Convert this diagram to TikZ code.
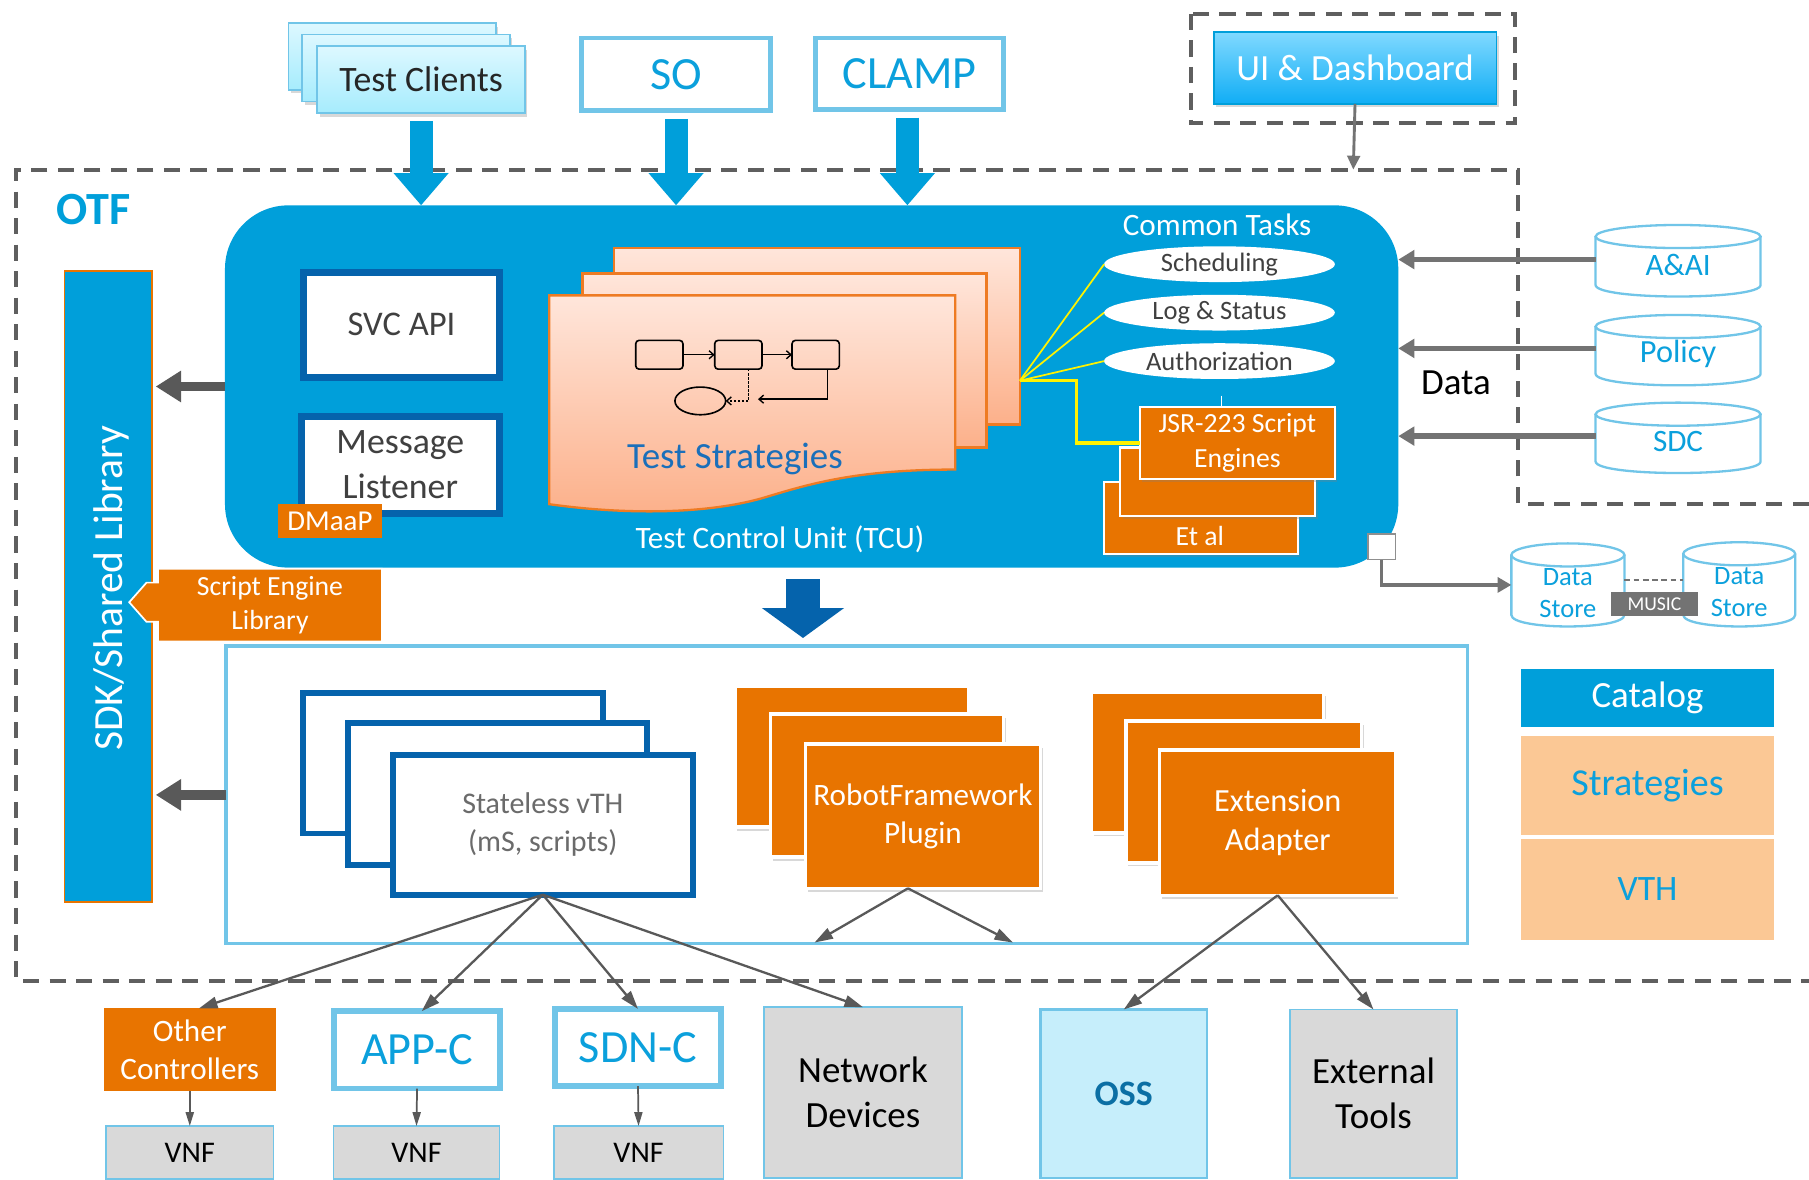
\documentclass[tikz,border=0pt]{standalone}
\usepackage{fontspec}
\setmainfont{Carlito}
\usetikzlibrary{arrows.meta,shapes.geometric,shadows,calc}
\definecolor{otfblue}{HTML}{009FDA}
\definecolor{dblue}{HTML}{0563AC}
\definecolor{lblue}{HTML}{71C5E8}
\definecolor{orng}{HTML}{E87400}
\definecolor{dgray}{HTML}{595959}
\definecolor{mgray}{HTML}{737373}
\definecolor{dashgray}{HTML}{5F5F5F}
\definecolor{txtgray}{HTML}{404040}
\definecolor{peach}{HTML}{FBC895}
\definecolor{lgray}{HTML}{D9D9D9}
\definecolor{ossfill}{HTML}{C6EEFB}
\definecolor{txtblue}{HTML}{0BA0DC}
\definecolor{tcTop}{HTML}{DDF8FF}
\definecolor{tcBot}{HTML}{A6ECFD}
\definecolor{uiTop}{HTML}{80D9FF}
\definecolor{uiBot}{HTML}{10ADF5}
\definecolor{tsTop}{HTML}{FFE6DB}
\definecolor{tsBot}{HTML}{FCB08A}
\definecolor{tsLine}{HTML}{EE7B23}
\definecolor{tsText}{HTML}{1A6FBA}
\definecolor{ossText}{HTML}{0B6FA4}
\newcommand{\fs}[2]{\fontsize{#1}{#2}\selectfont}
\newcommand{\cylshape}[5]{%
  \fill[white] (#1,#2+#5) -- (#1,#4-#5) .. controls (#1,#4+#5/3) and (#3,#4+#5/3) .. (#3,#4-#5) -- (#3,#2+#5) -- cycle;
  \draw[cylline] (#1,#2+#5) -- (#1,#4-#5) .. controls (#1,#4+#5/3) and (#3,#4+#5/3) .. (#3,#4-#5) -- (#3,#2+#5);
  \draw[cylline, fill=white] ({(#1+#3)/2},#2+#5) ellipse ({(#3-#1)/2} and #5);}
\tikzset{
  every node/.style={inner sep=0pt, outer sep=0pt, align=center},
  otfdash/.style={draw=dashgray, line width=3.5pt, dash pattern=on 14pt off 9pt},
  shad/.style={drop shadow={opacity=0.3, shadow xshift=2pt, shadow yshift=-3pt}},
  tcstack/.style={draw=lblue, line width=1.5pt, top color=tcTop, bottom color=tcBot, minimum width=180pt, minimum height=58pt, shad},
  topbox/.style={draw=lblue, line width=4pt, fill=white, text=txtblue, font=\fs{40}{44}},
  bluearrow/.style={draw=otfblue, line width=20pt, -{Triangle[width=46pt,length=28pt]}},
  innerbox/.style={fill=white, draw=dblue, line width=6pt, text=txtgray},
  tsbox/.style={top color=tsTop, bottom color=tsBot, draw=tsLine, line width=2pt},
  mini/.style={draw=black, line width=1.4pt, rounded corners=3pt, minimum width=41pt, minimum height=25pt},
  minitip/.style={line width=1.2pt, -{Straight Barb[length=4pt,width=7pt]}},
  task/.style={ellipse, fill=white, minimum width=200pt, minimum height=31pt, text=txtgray, font=\fs{23}{26}},
  yel/.style={draw=yellow, line width=1.5pt},
  jsrbox/.style={fill=orng, draw=white, line width=2pt, text=white, shad},
  cylarrow/.style={draw=mgray, line width=5pt, -{Triangle[width=16pt,length=14pt]}},
  cylline/.style={draw=lblue, line width=2pt},
  cyltext/.style={text=txtblue},
  dsarrow/.style={draw=mgray, line width=3pt, -{Triangle[width=13pt,length=12pt]}},
  sdkarrow/.style={draw=dgray, line width=8pt, -{Triangle[width=26pt,length=22pt]}},
  downarrow/.style={draw=dblue, line width=30pt, -{Triangle[width=70pt,length=26pt]}},
  vthbox/.style={fill=white, draw=dblue, line width=5pt},
  rfbox/.style={fill=orng, draw=white, line width=3pt, text=white, shad},
  lowarrow/.style={draw=dgray, line width=2pt, -{Triangle[width=10pt,length=16pt]}},
  vnfarrow/.style={draw=dgray, line width=1.5pt, -{Triangle[width=7pt,length=12pt]}},
  ctrlbox/.style={fill=white, draw=lblue, line width=5pt, text=txtblue, font=\fs{40}{44}, minimum width=144pt, minimum height=67pt},
  graybox/.style={fill=lgray, draw=lblue, line width=1.5pt, text=black},
}
\begin{document}
\begin{tikzpicture}[x=1pt,y=-1pt]
\useasboundingbox[fill=white] (0,0) rectangle (1568,1022);

% OTF boundary and UI boundary
\draw[otfdash] (1568,437) -- (1316,437) -- (1316,147) -- (14,147) -- (14,850) -- (1568,850);
\draw[otfdash] (1032,12) rectangle (1313,107);
\coordinate (otfin) at (1173,147);
\node[font=\bfseries\fs{40}{44}, text=otfblue] (otf) at (81,182) {OTF};

% top clients
\node[tcstack] (tc3) at (340,49) {};
\node[tcstack] (tc2) at (352,59) {};
\node[tcstack, text=black!85, font=\fs{31}{36}] (tc) at (365,69) {Test Clients};
\node[topbox, minimum width=164pt, minimum height=63pt] (so) at (586,64.5) {SO};
\node[topbox, minimum width=163pt, minimum height=62pt] (clamp) at (788.5,64) {CLAMP};
\node[top color=uiTop, bottom color=uiBot, draw=otfblue, line width=1.5pt, minimum width=245pt, minimum height=62pt, text=white, font=\fs{32}{36}, shad] (ui) at (1174.5,59) {UI \& Dashboard};
\draw[draw=mgray, line width=2.5pt, -{Triangle[width=11pt,length=12pt]}] (ui.south) -- (otfin);

% TCU
\node[fill=otfblue, rounded corners=55pt, minimum width=1017pt, minimum height=314pt] (tcu) at (703.5,335) {};
\draw[bluearrow] ([yshift=-7pt]tc.south) -- (tc.south |- tcu.north);
\draw[bluearrow] ([yshift=-7pt]so.south) -- (so.south |- tcu.north);
\draw[bluearrow] ([xshift=-2pt,yshift=-7pt]clamp.south) -- ([xshift=-2pt]clamp.south |- tcu.north);

\node[innerbox, minimum width=170pt, minimum height=91pt, font=\fs{30}{34}] (svc) at (348,281.5) {SVC API};
\node[innerbox, minimum width=172pt, minimum height=84pt, font=\fs{31}{39}] (msg) at (347,403) {Message\\Listener};
\node[fill=orng, text=white, minimum width=90pt, minimum height=29pt, font=\fs{25}{28}] (dmaap) at (286,451.5) {DMaaP};

% Test strategies
\node[tsbox, minimum width=352pt, minimum height=153pt] (ts3) at (708,291.5) {};
\node[tsbox, minimum width=350pt, minimum height=151pt] (ts2) at (680,312.5) {};
\path[tsbox] (476,256) -- (828,256) -- (828,407) .. controls (740,407) and (700,420) .. (660,432) .. controls (610,446) and (540,446) .. (476,437) -- cycle;
\node[mini] (m1) at (571.5,307.5) {};
\node[mini] (m2) at (640,307.5) {};
\node[mini] (m3) at (707,307.5) {};
\node[ellipse, draw=black, line width=1.4pt, minimum width=44pt, minimum height=24pt] (me) at (607,347.5) {};
\draw[minitip] (m1.east) -- (m2.west);
\draw[minitip] (m2.east) -- (m3.west);
\draw[minitip, dash pattern=on 2pt off 1.5pt] ([xshift=9pt]m2.south) |- (me.east);
\coordinate (mtip) at (657,346);
\draw[minitip] ([xshift=10pt]m3.south) |- (mtip);
\node[text=tsText, font=\fs{32}{36}] (tslabel) at (637,398) {Test Strategies};
\node[text=white, font=\fs{27}{30}] (tculabel) at (676,467) {Test Control Unit (TCU)};
\node[text=white, font=\fs{27}{30}] (ctlabel) at (1055,195) {Common Tasks};

% common tasks
\node[task] (sched) at (1057,229) {Scheduling};
\node[task] (logst) at (1057,271) {Log \& Status};
\node[task] (auth) at (1057,313) {Authorization};
\coordinate (yj) at (884,330);
\draw[yel] (yj) -- (sched.west);
\draw[yel] (yj) -- (logst.west);
\draw[yel] (yj) -- (auth.west);
\draw[draw=white, line width=1pt] (1059,343) -- (1059,353);

% script engines
\node[jsrbox, minimum width=168pt, minimum height=62pt] (etal) at (1041,449) {};
\node[text=white, font=\fs{24}{28}] (etaltxt) at (1040,465) {Et al};
\node[jsrbox, minimum width=169pt, minimum height=59pt] (jsr2) at (1055.5,417.5) {};
\node[jsrbox, minimum width=169pt, minimum height=62pt, font=\fs{24}{30}] (jsr) at (1072.5,384) {JSR-223 Script\\Engines};
\draw[draw=yellow, line width=3pt] (yj) -- ++(49,0) |- (jsr.west);

% data sources
\cylshape{1383}{195}{1526}{257}{10}
\cylshape{1383}{273}{1526}{334}{10}
\cylshape{1383}{349}{1526}{410}{10}
\node[cyltext, font=\fs{27}{30}, minimum width=143pt, minimum height=40pt] (aai) at (1454.5,230) {A\&AI};
\node[cyltext, font=\fs{28}{30}, minimum width=143pt, minimum height=40pt] (policy) at (1454.5,307) {Policy};
\node[cyltext, font=\fs{27}{30}, minimum width=143pt, minimum height=40pt] (sdc) at (1454.5,383) {SDC};
\draw[cylarrow] ([yshift=5pt]aai.west) -- ([yshift=5pt]aai.west -| tcu.east);
\draw[cylarrow] ([yshift=5pt]policy.west) -- ([yshift=5pt]policy.west -| tcu.east);
\draw[cylarrow] ([yshift=5pt]sdc.west) -- ([yshift=5pt]sdc.west -| tcu.east);
\node[font=\fs{32}{36}] (data) at (1262,332) {Data};

% data stores
\cylshape{1310}{471}{1408}{543}{10}
\cylshape{1459}{470}{1556}{543}{10}
\node[cyltext, font=\fs{23}{28}, minimum width=98pt, minimum height=50pt] (ds1) at (1359,514) {Data\\Store};
\node[cyltext, font=\fs{23}{28}, minimum width=97pt, minimum height=50pt] (ds2) at (1507.5,513) {Data\\Store};
\draw[draw=mgray, line width=1.5pt, dash pattern=on 5pt off 3pt] ([yshift=11pt]ds1.east) -- ([yshift=10pt]ds2.west);
\node[fill=mgray, text=white, minimum width=76pt, minimum height=21pt, font=\fs{17}{20}] (music) at (1434,523.5) {MUSIC};
\node[fill=white, draw=mgray!80, line width=1.5pt, minimum width=24pt, minimum height=22pt] (sq) at (1197.5,474) {};
\draw[dsarrow] (sq.south) |- ([yshift=7pt]ds1.west);

% SDK
\node[fill=otfblue, draw=orng, line width=1.5pt, minimum width=76pt, minimum height=547pt] (sdk) at (94,508.5) {};
\node[rotate=90, text=white, font=\fs{36}{40}] (sdktxt) at (97,510) {SDK/Shared Library};
\draw[sdkarrow] (tcu.west) -- ([xshift=3pt]tcu.west -| sdk.east);
\fill[orng, draw=white, line width=1.5pt] (137,493) -- (331,493) -- (331,556) -- (137,556) -- (137,539) -- (127,539) -- (112,522) -- (127,505) -- (137,505) -- cycle;
\node[text=white, font=\fs{24}{30}, minimum width=194pt, minimum height=63pt] (sel) at (234,524.5) {Script Engine\\Library};

% lower box
\node[draw=lblue, line width=3pt, fill=white, minimum width=1076pt, minimum height=258pt] (lowbox) at (734,689) {};
\draw[sdkarrow] (lowbox.west) -- ([xshift=3pt]lowbox.west -| sdk.east);
\draw[downarrow] ([xshift=-7.5pt,yshift=-10pt]tcu.south) -- ([xshift=-7.5pt,yshift=7pt]tcu.south |- lowbox.north);

\node[vthbox, minimum width=260pt, minimum height=122pt] (vth3) at (392.5,661.5) {};
\node[vthbox, minimum width=259pt, minimum height=123pt] (vth2) at (431,688) {};
\node[vthbox, minimum width=260pt, minimum height=121pt, text=black!58, font=\fs{26}{33}] (vth) at (470.5,715) {Stateless vTH\\(mS, scripts)};

\node[rfbox, minimum width=203pt, minimum height=122pt] (rf3) at (738.5,656) {};
\node[rfbox, minimum width=202pt, minimum height=124pt] (rf2) at (769,681) {};
\node[rfbox, minimum width=204pt, minimum height=125pt, font=\fs{27}{33}] (rf) at (800,707.5) {RobotFramework\\Plugin};

\node[rfbox, minimum width=201pt, minimum height=122pt] (ea3) at (1046.5,661) {};
\node[rfbox, minimum width=204pt, minimum height=123pt] (ea2) at (1078,686.5) {};
\node[rfbox, minimum width=205pt, minimum height=126pt, font=\fs{28}{34}] (ea) at (1107.5,713) {Extension\\Adapter};

% bottom row
\node[fill=orng, text=white, minimum width=149pt, minimum height=72pt, font=\fs{27}{33}] (oc) at (164.5,910) {Other\\Controllers};
\node[ctrlbox] (appc) at (361.5,910) {APP-C};
\node[ctrlbox] (sdnc) at (553,908) {SDN-C};
\node[graybox, minimum width=172pt, minimum height=148pt, font=\fs{32}{39}] (netdev) at (748,947) {Network\\Devices};
\node[fill=ossfill, draw=lblue, line width=2pt, minimum width=144pt, minimum height=146pt, text=ossText, font=\bfseries\fs{31}{36}] (oss) at (974,948) {OSS};
\node[graybox, minimum width=145pt, minimum height=146pt, font=\fs{32}{39}] (ext) at (1190.5,948) {External\\Tools};
\node[graybox, minimum width=145pt, minimum height=46pt, font=\fs{26}{30}] (vnf1) at (164.5,999) {VNF};
\node[graybox, minimum width=144pt, minimum height=46pt, font=\fs{26}{30}] (vnf2) at (361,999) {VNF};
\node[graybox, minimum width=147pt, minimum height=46pt, font=\fs{26}{30}] (vnf3) at (553.5,999) {VNF};

\draw[lowarrow] (vth.south) -- ([xshift=8pt]oc.north);
\draw[lowarrow] (vth.south) -- ([xshift=4pt]appc.north);
\draw[lowarrow] (vth.south) -- (sdnc.north);
\draw[lowarrow] (vth.south) -- (netdev.north);
\coordinate (rfa) at (706,817);
\coordinate (rfb) at (878,817);
\draw[lowarrow] ([xshift=-13pt]rf.south) -- (rfa);
\draw[lowarrow] ([xshift=-13pt]rf.south) -- (rfb);
\draw[lowarrow] (ea.south) -- (oss.north);
\draw[lowarrow] (ea.south) -- (ext.north);
\draw[vnfarrow] (oc.south) -- (vnf1.north);
\draw[vnfarrow] (appc.south) -- (vnf2.north);
\draw[vnfarrow] (sdnc.south) -- (vnf3.north);

% catalog
\node[fill=otfblue, text=white, minimum width=220pt, minimum height=50pt, font=\fs{32}{36}] (cat) at (1428,605) {Catalog};
\node[fill=peach, text=txtblue, minimum width=220pt, minimum height=86pt, font=\fs{33}{36}] (strat) at (1428,681) {Strategies};
\node[fill=peach, text=txtblue, minimum width=220pt, minimum height=88pt, font=\fs{31}{36}] (vthcat) at (1428,771) {VTH};
\end{tikzpicture}
\end{document}
